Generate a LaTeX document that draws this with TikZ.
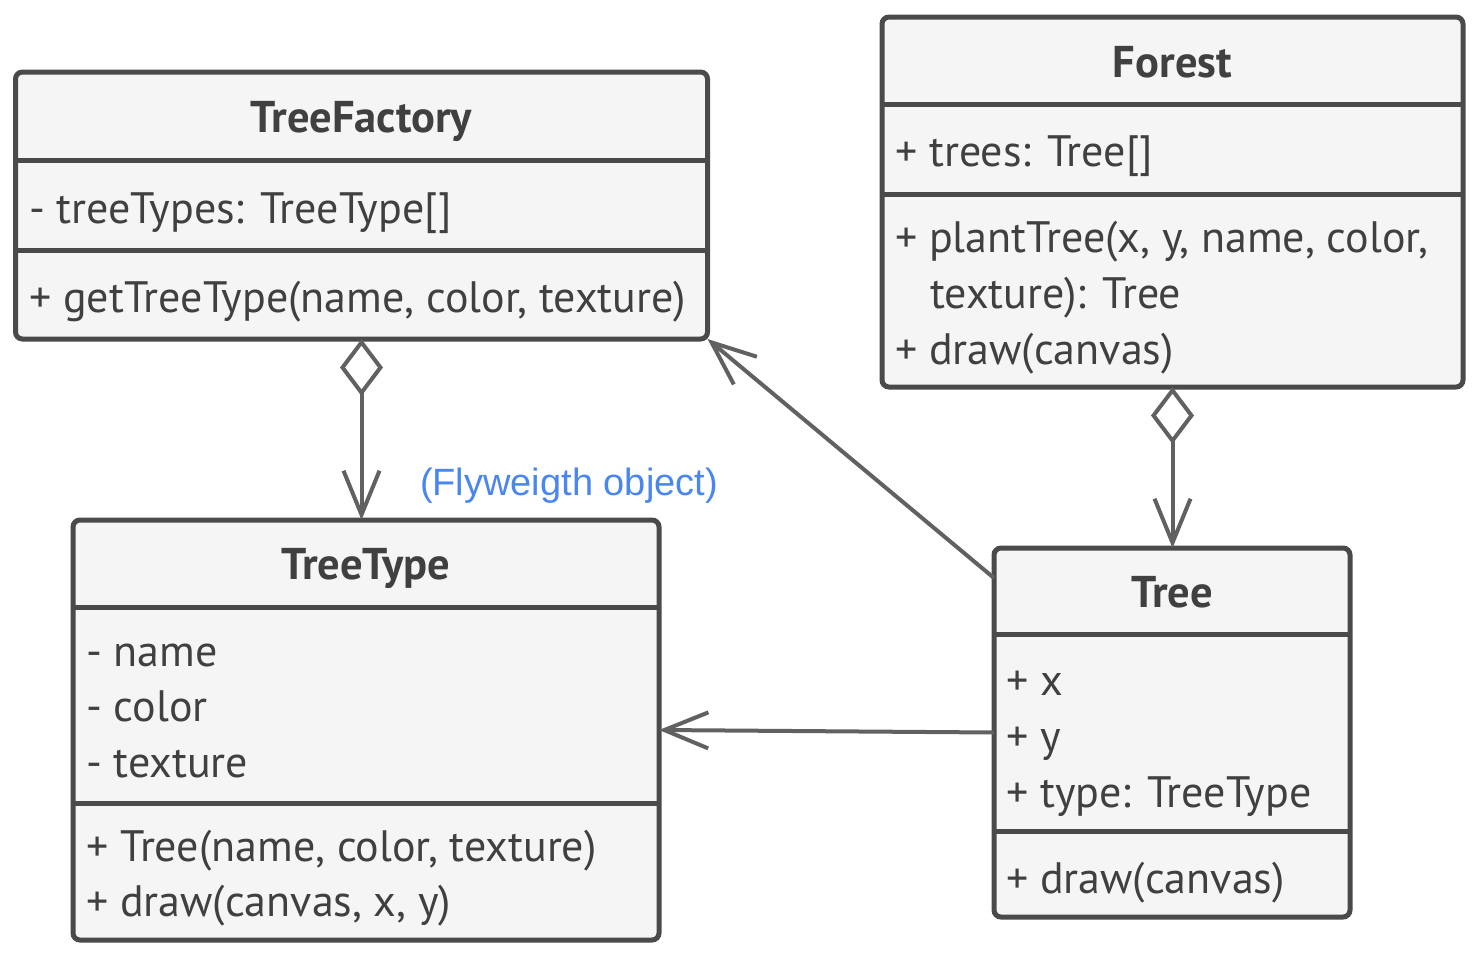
\documentclass[tikz,border=0pt]{standalone}
\usepackage{fontspec}
\setmainfont{PT Sans}
\newfontfamily\notefont{Liberation Sans}
\usetikzlibrary{arrows.meta,calc}
\definecolor{edgec}{HTML}{4A4A4A}
\definecolor{boxfill}{HTML}{F5F5F5}
\definecolor{txtc}{HTML}{404040}
\definecolor{connc}{HTML}{616161}
\definecolor{notec}{HTML}{4A86F0}
\begin{document}
\begin{tikzpicture}[x=1pt,y=-1pt,
  umlbox/.style={draw=edgec, fill=boxfill, line width=5pt, rounded corners=7pt, rectangle, inner sep=0pt, outer sep=0pt, anchor=north west},
  sepline/.style={draw=edgec, line width=5pt},
  ttl/.style={font=\bfseries\fontsize{44.5}{52}\selectfont, text=txtc, anchor=base, inner sep=0pt},
  member/.style={font=\fontsize{44}{52}\selectfont, text=txtc, anchor=base west, inner sep=0pt},
  assoc/.style={draw=connc, line width=4pt, -{Straight Barb[length=44pt, width=36pt, line width=4pt]}},
  agg/.style={draw=connc, line width=4pt, {Diamond[fill=white, length=57pt, width=43pt, line width=4pt]}-{Straight Barb[length=44pt, width=36pt, line width=4pt]}}
]
\useasboundingbox (0,0) rectangle (1476,956);

% TreeFactory
\node[umlbox, minimum width=692pt, minimum height=267pt] (tf) at (15.5,72) {};
\draw[sepline] (15.5,160) -- (707.5,160);
\draw[sepline] (15.5,250) -- (707.5,250);
\node[ttl] (tfT) at (361.5,132) {TreeFactory};
\node[member] (tfA) at (29,223) {- treeTypes: TreeType[]};
\node[member] (tfM) at (29,312) {+ getTreeType(name, color, texture)};

% Forest
\node[umlbox, minimum width=581pt, minimum height=370pt] (fo) at (882,17) {};
\draw[sepline] (882,104) -- (1463,104);
\draw[sepline] (882,194) -- (1463,194);
\node[ttl] (foT) at (1172.5,77) {Forest};
\node[member] (foA) at (895,166) {+ trees: Tree[]};
\node[member] (foM1) at (895,252) {+ plantTree(x, y, name, color,};
\node[member] (foM2) at (930,308) {texture): Tree};
\node[member] (foM3) at (895,364) {+ draw(canvas)};

% TreeType
\node[umlbox, minimum width=586pt, minimum height=420pt] (tt) at (73,520) {};
\draw[sepline] (73,607) -- (659,607);
\draw[sepline] (73,803) -- (659,803);
\node[ttl] (ttT) at (366,579) {TreeType};
\node[member] (ttA1) at (86,666) {- name};
\node[member] (ttA2) at (86,721) {- color};
\node[member] (ttA3) at (86,777) {- texture};
\node[member] (ttM1) at (86,861) {+ Tree(name, color, texture)};
\node[member] (ttM2) at (86,916) {+ draw(canvas, x, y)};

% Tree
\node[umlbox, minimum width=356pt, minimum height=369pt] (tr) at (994,548) {};
\draw[sepline] (994,634) -- (1350,634);
\draw[sepline] (994,831) -- (1350,831);
\node[ttl] (trT) at (1172,607) {Tree};
\node[member] (trA1) at (1006,695) {+ x};
\node[member] (trA2) at (1006,751) {+ y};
\node[member] (trA3) at (1006,807) {+ type: TreeType};
\node[member] (trM1) at (1006,893) {+ draw(canvas)};

% note
\node[font=\notefont\fontsize{38}{44}\selectfont, text=notec, inner sep=0pt] (note) at (569,486) {(Flyweigth object)};

% connectors
\draw[agg] (tf.south) -- (tf.south |- tt.north);
\draw[agg] (fo.south) -- (fo.south |- tr.north);
\coordinate (trUp) at ($(tr.north west)+(0,30)$);
\draw[assoc] (trUp) -- (tf.south east);
\draw[assoc] (tr.west) -- (tt.east);
\end{tikzpicture}
\end{document}
